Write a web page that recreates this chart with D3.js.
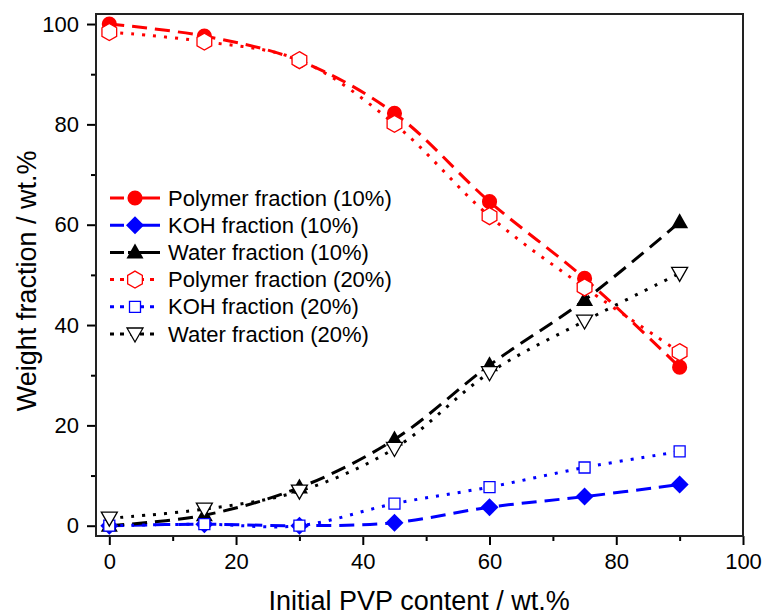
<!DOCTYPE html>
<html>
<head>
<meta charset="utf-8">
<script src="https://cdn.jsdelivr.net/npm/d3@7"></script>
<style>
  body { margin: 0; background: #fff; }
  svg { font-family: Arial, "Liberation Sans", sans-serif; }
</style>
</head>
<body>
<script>
// PVP content (x) and the six measured series
const pvp = [0, 15, 30, 45, 60, 75, 90];
const polymer10 = [100, 97.6, 92.7, 82.2, 64.6, 49.3, 31.6];
const koh10 = [0, 0.3, 0, 0.6, 3.7, 5.8, 8.2];
const water10 = [0, 2.1, 7.6, 17.2, 32.0, 45.0, 60.5];
const polymer20 = [98.4, 96.5, 92.8, 80.1, 61.7, 47.5, 34.6];
const koh20 = [0, 0.3, 0, 4.4, 7.7, 11.6, 14.8];
const water20 = [1.5, 3.3, 6.9, 15.4, 30.5, 40.8, 50.3];

const xTicks = [0, 20, 40, 60, 80, 100];
const yTicks = [0, 20, 40, 60, 80, 100];

const series = [
  {name: "Polymer fraction (10%)", vals: polymer10, color: "#ff0000", dash: "15,8", sym: "circle"},
  {name: "KOH fraction (10%)", vals: koh10, color: "#0000ff", dash: "15,8", sym: "diamond"},
  {name: "Water fraction (10%)", vals: water10, color: "#000000", dash: "15,8", sym: "triup"},
  {name: "Polymer fraction (20%)", vals: polymer20, color: "#ff0000", dash: "3,8", sym: "hexagon"},
  {name: "KOH fraction (20%)", vals: koh20, color: "#0000ff", dash: "3,8", sym: "square"},
  {name: "Water fraction (20%)", vals: water20, color: "#000000", dash: "3,8", sym: "tridown"}
];

const W = 763, H = 615;
const m = {left: 96, top: 14, right: 20, bottom: 79};

const svg = d3.select("body").append("svg").attr("width", W).attr("height", H);

const x = d3.scaleLinear().domain([-2.1, 100]).range([m.left, W - m.right]);
const y = d3.scaleLinear().domain([-2.05, 102]).range([H - m.bottom, m.top]);

// minor ticks
svg.append("g").attr("transform", `translate(0,${H - m.bottom})`)
  .call(d3.axisBottom(x).tickValues([10, 30, 50, 70, 90]).tickSize(5).tickFormat(""))
  .call(g => g.select(".domain").remove())
  .selectAll("line").attr("stroke-width", 2);
svg.append("g").attr("transform", `translate(${m.left},0)`)
  .call(d3.axisLeft(y).tickValues([10, 30, 50, 70, 90]).tickSize(5).tickFormat(""))
  .call(g => g.select(".domain").remove())
  .selectAll("line").attr("stroke-width", 2);

// major ticks
const xa = svg.append("g").attr("transform", `translate(0,${H - m.bottom})`)
  .call(d3.axisBottom(x).tickValues(xTicks).tickSize(9).tickPadding(8));
xa.select(".domain").remove();
xa.selectAll("line").attr("stroke-width", 2);
xa.selectAll("text").attr("font-size", 22).attr("fill", "#000").attr("font-family", null);

const ya = svg.append("g").attr("transform", `translate(${m.left},0)`)
  .call(d3.axisLeft(y).tickValues(yTicks).tickSize(9).tickPadding(8));
ya.select(".domain").remove();
ya.selectAll("line").attr("stroke-width", 2);
ya.selectAll("text").attr("font-size", 22).attr("fill", "#000").attr("font-family", null);

// frame
svg.append("rect")
  .attr("x", m.left).attr("y", m.top)
  .attr("width", W - m.right - m.left).attr("height", H - m.bottom - m.top)
  .attr("fill", "none").attr("stroke", "#222").attr("stroke-width", 2);

// axis titles
svg.append("text").attr("x", x(50) - 7).attr("y", 610)
  .attr("text-anchor", "middle").attr("font-size", 27)
  .text("Initial PVP content / wt.%");
svg.append("text")
  .attr("transform", `translate(36,${y(50) + 6}) rotate(-90)`)
  .attr("text-anchor", "middle").attr("font-size", 27)
  .text("Weight fraction / wt.%");

function symPath(sym) {
  if (sym == "circle") return d3.symbol(d3.symbolCircle, 180)();
  if (sym == "diamond") return "M0,-9L9,0L0,9L-9,0Z";
  if (sym == "triup") return "M0,-9L8.5,6L-8.5,6Z";
  if (sym == "tridown") return "M0,8L8,-6L-8,-6Z";
  if (sym == "square") return "M-5.5,-5.5H5.5V5.5H-5.5Z";
  if (sym == "hexagon") {
    let pts = d3.range(6).map(i => {
      let a = Math.PI / 3 * i - Math.PI / 2;
      return [8.5 * Math.cos(a), 8.5 * Math.sin(a)];
    });
    return "M" + pts.join("L") + "Z";
  }
}
function filled(sym) { return sym == "circle" || sym == "diamond" || sym == "triup"; }

const line = d3.line().curve(d3.curveCatmullRom.alpha(0.5))
  .x((d, i) => x(pvp[i])).y(d => y(d));

// lines
series.forEach(s => {
  svg.append("path").datum(s.vals)
    .attr("d", line)
    .attr("fill", "none")
    .attr("stroke", s.color)
    .attr("stroke-width", 3)
    .attr("stroke-dasharray", s.dash);
});

// markers
series.forEach(s => {
  svg.append("g").selectAll("path")
    .data(s.vals)
    .enter()
    .append("path")
    .attr("d", symPath(s.sym))
    .attr("transform", (d, i) => `translate(${x(pvp[i])},${y(d)})`)
    .attr("fill", filled(s.sym) ? s.color : "#fff")
    .attr("stroke", s.color)
    .attr("stroke-width", filled(s.sym) ? 0 : 1.3);
});

// legend
const lg = svg.append("g");
series.forEach((s, i) => {
  let cy = 198 + i * 27.2;
  lg.append("line")
    .attr("x1", 110).attr("x2", 160).attr("y1", cy).attr("y2", cy)
    .attr("stroke", s.color).attr("stroke-width", 3)
    .attr("stroke-dasharray", i < 3 ? "14,4,40" : "4,6");
  lg.append("path")
    .attr("d", symPath(s.sym))
    .attr("transform", `translate(135,${cy})`)
    .attr("fill", filled(s.sym) ? s.color : "#fff")
    .attr("stroke", s.color)
    .attr("stroke-width", filled(s.sym) ? 0 : 1.3);
  lg.append("text")
    .attr("x", 168).attr("y", cy + 7.5)
    .attr("font-size", 22)
    .text(s.name);
});
</script>
</body>
</html>
